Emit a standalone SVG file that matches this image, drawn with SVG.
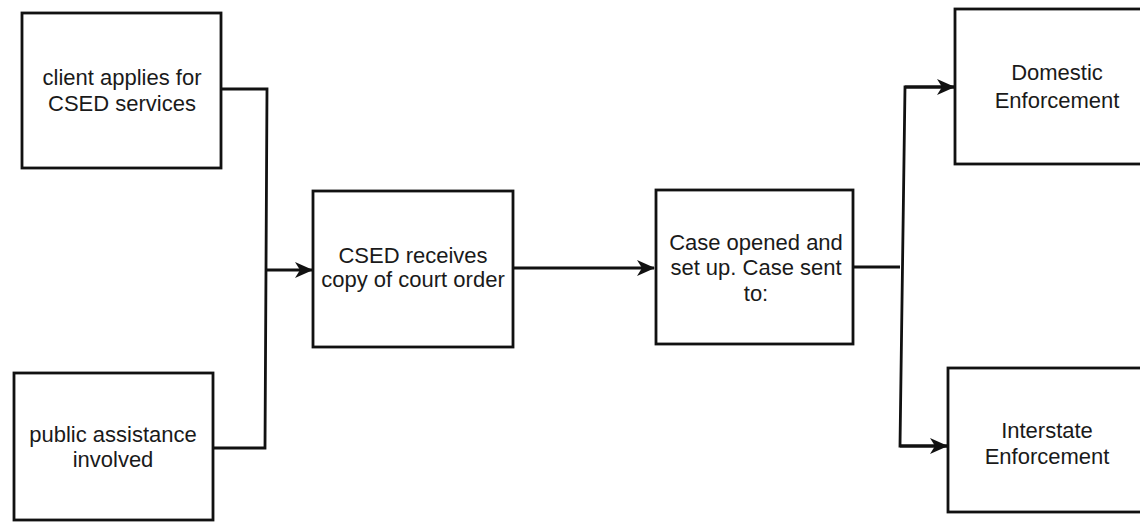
<svg xmlns="http://www.w3.org/2000/svg" width="1140" height="523" viewBox="0 0 1140 523">
<style>
.box{fill:#fff;stroke:#111;stroke-width:2.8}
.t{font-family:"Liberation Sans",Arial,sans-serif;font-size:22px;fill:#1a1a1a;text-anchor:middle}
.c{fill:none;stroke:#111;stroke-width:2.8}
</style>
<defs>
<marker id="ah" markerWidth="18" markerHeight="16" refX="17" refY="8" orient="auto" markerUnits="userSpaceOnUse">
<path d="M0,0 L18,8 L0,16 L5,8 Z" fill="#111"/>
</marker>
</defs>
<rect width="1140" height="523" fill="#fff"/>
<g id="connectors">
<path class="c" d="M221,89 H267 L265,448 H213"/>
<path class="c" d="M266,270 H312" marker-end="url(#ah)"/>
<path class="c" d="M513,268 H654" marker-end="url(#ah)"/>
<path class="c" d="M853,267 H900"/>
<path class="c" d="M954,87 H905 L900,446 H947"/>
<path class="c" d="M905,87 H954" marker-end="url(#ah)"/>
<path class="c" d="M900,446 H947" marker-end="url(#ah)"/>
</g>
<g id="n1">
<rect class="box" x="22" y="13" width="199" height="155"/>
<text class="t" x="122" y="85">client applies for</text>
<text class="t" x="122" y="111">CSED services</text>
</g>
<g id="n2">
<rect class="box" x="14" y="373" width="199" height="147"/>
<text class="t" x="113" y="442">public assistance</text>
<text class="t" x="113" y="467">involved</text>
</g>
<g id="n3">
<rect class="box" x="313" y="191" width="200" height="156"/>
<text class="t" x="413" y="263">CSED receives</text>
<text class="t" x="413" y="287">copy of court order</text>
</g>
<g id="n4">
<rect class="box" x="656" y="190" width="197" height="154"/>
<text class="t" x="756" y="250">Case opened and</text>
<text class="t" x="756" y="275">set up. Case sent</text>
<text class="t" x="756" y="301">to:</text>
</g>
<g id="n5">
<rect class="box" x="955" y="9" width="210" height="155"/>
<text class="t" x="1057" y="80">Domestic</text>
<text class="t" x="1057" y="108">Enforcement</text>
</g>
<g id="n6">
<rect class="box" x="948" y="368" width="215" height="144"/>
<text class="t" x="1047" y="438">Interstate</text>
<text class="t" x="1047" y="464">Enforcement</text>
</g>
</svg>
